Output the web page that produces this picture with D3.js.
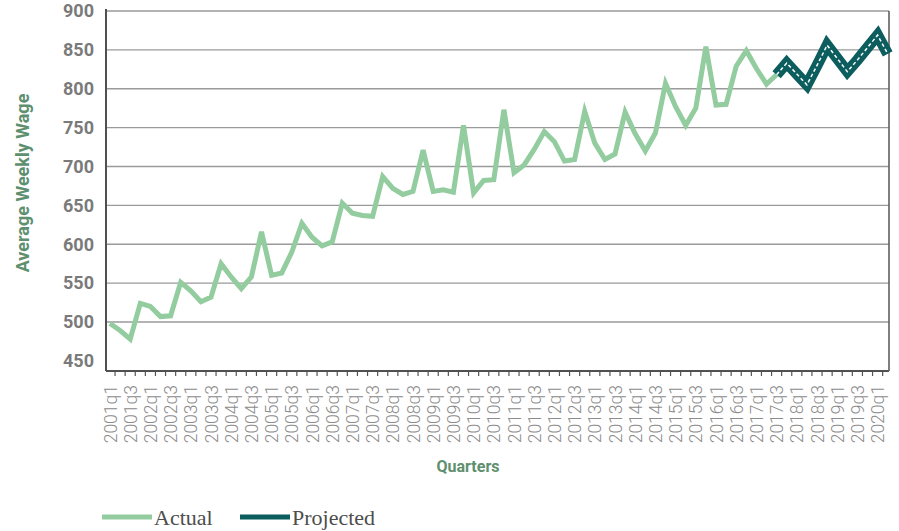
<!DOCTYPE html>
<html>
<head>
<meta charset="utf-8">
<script src="https://cdn.jsdelivr.net/npm/d3@7"></script>
<style>
  body { margin: 0; background: #fff; }
  svg { display: block; }
</style>
</head>
<body>
<svg id="chart" width="899" height="531"></svg>
<script>
const quarters = [
  "2001q1","2001q2","2001q3","2001q4","2002q1","2002q2","2002q3","2002q4",
  "2003q1","2003q2","2003q3","2003q4","2004q1","2004q2","2004q3","2004q4",
  "2005q1","2005q2","2005q3","2005q4","2006q1","2006q2","2006q3","2006q4",
  "2007q1","2007q2","2007q3","2007q4","2008q1","2008q2","2008q3","2008q4",
  "2009q1","2009q2","2009q3","2009q4","2010q1","2010q2","2010q3","2010q4",
  "2011q1","2011q2","2011q3","2011q4","2012q1","2012q2","2012q3","2012q4",
  "2013q1","2013q2","2013q3","2013q4","2014q1","2014q2","2014q3","2014q4",
  "2015q1","2015q2","2015q3","2015q4","2016q1","2016q2","2016q3","2016q4",
  "2017q1","2017q2","2017q3","2017q4","2018q1","2018q2","2018q3","2018q4",
  "2019q1","2019q2","2019q3","2019q4","2020q1","2020q2"
];

// Actual average weekly wage, 2001q1 .. 2017q3
const actual = [
  498, 489, 478, 524, 520, 507, 508, 551,
  540, 526, 532, 575, 558, 543, 558, 616,
  560, 563, 590, 627, 609, 598, 603, 653,
  640, 637, 636, 687, 672, 664, 668, 721,
  668, 670, 667, 753, 666, 682, 683, 773,
  692, 702, 722, 745, 732, 707, 709, 771,
  730, 709, 716, 770, 742, 720, 743, 807,
  777, 753, 775, 854, 779, 780, 829, 849,
  826, 806, 818
];

// Projected, 2017q3 .. 2020q2
const projectedStart = "2017q3";
const projected = [818, 833, 819, 805, 830, 856, 839, 822, 837, 853, 869, 845];

const yTicks = [450, 500, 550, 600, 650, 700, 750, 800, 850, 900];
const xTickLabels = [
  "2001q1","2001q3","2002q1","2002q3","2003q1","2003q3","2004q1","2004q3",
  "2005q1","2005q3","2006q1","2006q3","2007q1","2007q3","2008q1","2008q3",
  "2009q1","2009q3","2010q1","2010q3","2011q1","2011q3","2012q1","2012q3",
  "2013q1","2013q3","2014q1","2014q3","2015q1","2015q3","2016q1","2016q3",
  "2017q1","2017q3","2018q1","2018q3","2019q1","2019q3","2020q1"
];

const actualPts = actual.map((v, i) => ({ q: quarters[i], v }));
const pStartIdx = quarters.indexOf(projectedStart);
const projectedPts = projected.map((v, i) => ({ q: quarters[pStartIdx + i], v }));

const svg = d3.select("#chart");
const plotLeft = 106, plotRight = 889, plotTop = 11, plotBottom = 371;

const x = d3.scalePoint().domain(quarters).range([110, 887.7]);
const y = d3.scaleLinear().domain([437, 900]).range([plotBottom, plotTop]);

const step = x.step();

// gridlines
svg.append("g")
  .selectAll("line")
  .data(yTicks.filter(t => t > 450))
  .join("line")
  .attr("x1", plotLeft).attr("x2", plotRight)
  .attr("y1", d => y(d)).attr("y2", d => y(d))
  .attr("stroke", "#9a9a9a").attr("stroke-width", 1.4);

// y tick labels
const yAxis = d3.axisLeft(y).tickValues(yTicks).tickSize(0).tickPadding(12);
const yg = svg.append("g").attr("transform", `translate(${plotLeft},0)`).call(yAxis);
yg.select(".domain").remove();
yg.selectAll("text")
  .attr("fill", "#7a7a7a")
  .style("font-family", "Roboto, sans-serif")
  .style("font-weight", "700")
  .style("font-size", "18px");

// x axis (ticks between categories)
const tickPos = quarters.map((q, i) => x(q) - step / 2).concat([x(quarters[quarters.length - 1]) + step / 2])
  .filter(p => p >= plotLeft - 1 && p <= plotRight + 1);
svg.append("g").selectAll("line").data(tickPos).join("line")
  .attr("x1", d => d).attr("x2", d => d)
  .attr("y1", plotBottom).attr("y2", plotBottom + 5)
  .attr("stroke", "#555").attr("stroke-width", 1.2);

const xAxis = d3.axisBottom(x).tickValues(xTickLabels).tickSize(0).tickPadding(0);
const xg = svg.append("g").attr("transform", `translate(0,${plotBottom})`).call(xAxis);
xg.select(".domain").remove();
xg.selectAll("text")
  .attr("transform", "rotate(-90)")
  .attr("x", -14).attr("y", 0).attr("dy", "0.35em")
  .style("text-anchor", "end")
  .attr("fill", "#8c8c8c")
  .style("font-family", "Roboto, sans-serif")
  .style("font-weight", "300")
  .style("font-size", "17.5px");

// axis frame lines
svg.append("line").attr("x1", plotLeft).attr("x2", plotLeft).attr("y1", plotTop - 2).attr("y2", plotBottom)
  .attr("stroke", "#505050").attr("stroke-width", 2);
svg.append("line").attr("x1", plotLeft).attr("x2", plotRight).attr("y1", plotBottom).attr("y2", plotBottom)
  .attr("stroke", "#505050").attr("stroke-width", 2);
svg.append("line").attr("x1", plotRight).attr("x2", plotRight).attr("y1", plotTop).attr("y2", plotBottom)
  .attr("stroke", "#606060").attr("stroke-width", 1.6);

// lines
const line = d3.line().x(d => x(d.q)).y(d => y(d.v));

svg.append("path").datum(actualPts)
  .attr("d", line)
  .attr("fill", "none")
  .attr("stroke", "#93cc9f")
  .attr("stroke-width", 5)
  .attr("stroke-linejoin", "miter");

svg.append("path").datum(projectedPts)
  .attr("d", line)
  .attr("fill", "none")
  .attr("stroke", "#0b5d5e")
  .attr("stroke-width", 11)
  .attr("stroke-linejoin", "miter");

svg.append("path").datum(projectedPts)
  .attr("d", line)
  .attr("fill", "none")
  .attr("stroke", "#ffffff")
  .attr("stroke-width", 1.5)
  .attr("stroke-dasharray", "3.5,2.5");

// axis titles
svg.append("text")
  .attr("transform", `translate(29,${(plotTop + plotBottom) / 2 - 8}) rotate(-90)`)
  .attr("text-anchor", "middle")
  .attr("fill", "#5e8f6e")
  .style("font-family", "Roboto, sans-serif")
  .style("font-weight", "700")
  .style("font-size", "18px")
  .text("Average Weekly Wage");

svg.append("text")
  .attr("x", 468).attr("y", 472)
  .attr("text-anchor", "middle")
  .attr("fill", "#5e8f6e")
  .style("font-family", "Roboto, sans-serif")
  .style("font-weight", "700")
  .style("font-size", "16px")
  .text("Quarters");

// legend
const legend = [
  { name: "Actual", color: "#93cc9f", x: 102 },
  { name: "Projected", color: "#0b5d5e", x: 240 }
];
const lg = svg.append("g").selectAll("g").data(legend).join("g")
  .attr("transform", d => `translate(${d.x},517)`);
lg.append("line").attr("x1", 0).attr("x2", 50).attr("y1", 0).attr("y2", 0)
  .attr("stroke", d => d.color).attr("stroke-width", 5);
lg.append("text").attr("x", 52).attr("y", 8)
  .attr("fill", "#4d4d4d")
  .style("font-family", "'Liberation Serif', serif")
  .style("font-size", "22px")
  .text(d => d.name);
</script>
</body>
</html>
